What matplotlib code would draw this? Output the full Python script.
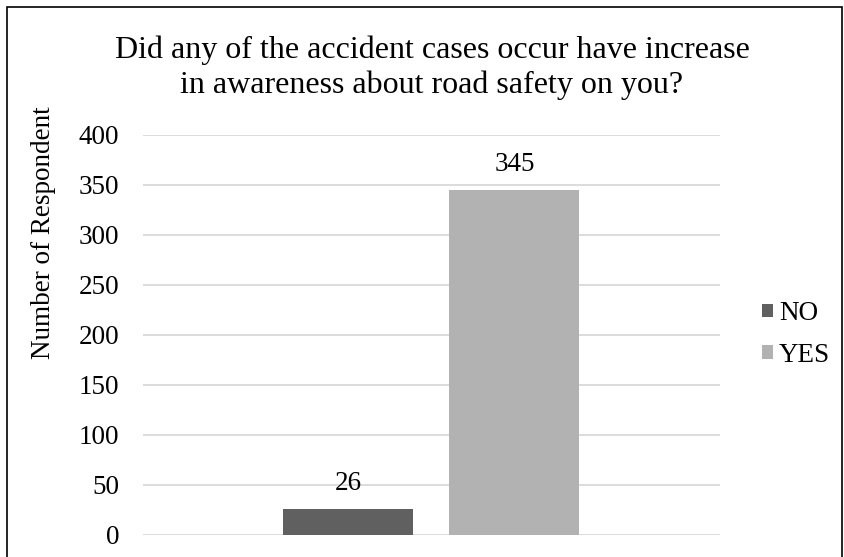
import matplotlib.pyplot as plt
from matplotlib.patches import Rectangle

plt.rcParams["font.family"] = ["Liberation Serif", "DejaVu Serif"]

# data
answers = ["NO", "YES"]
counts = [26, 345]
colors = ["#606060", "#b2b2b2"]
yticks = [0, 50, 100, 150, 200, 250, 300, 350, 400]
title_lines = ["Did any of the accident cases occur have increase",
               "in awareness about road safety on you?"]

fig = plt.figure(figsize=(8.45, 5.57), dpi=100)
ax = fig.add_axes([143 / 845, 22 / 557, 577 / 845, 400 / 557])

# one category group, two bars side by side
bar_w = 130 / 577
offsets = [-83 / 577, 83 / 577]
for name, val, col, off in zip(answers, counts, colors, offsets):
    ax.bar(off, val, width=bar_w, color=col, label=name, zorder=2)
    ax.text(off, val + 19, str(val), ha="center", va="baseline", fontsize=19.5)

ax.set_xlim(-0.5, 0.5)
ax.set_ylim(0, 400)
ax.set_yticks(yticks)
ax.set_xticks([])
ax.tick_params(axis="y", length=0, labelsize=19.5, pad=17)
ax.grid(True, axis="y", color="#d9d9d9", lw=1.3, zorder=0)
for s in ax.spines.values():
    s.set_visible(False)

fig.text(44 / 845, 1 - 233 / 557, "Number of Respondent", rotation=90,
         ha="center", va="center", fontsize=19.5)
fig.text(432 / 845, 1 - 58 / 557, title_lines[0], ha="center",
         va="baseline", fontsize=23)
fig.text(432 / 845, 1 - 93 / 557, title_lines[1], ha="center",
         va="baseline", fontsize=23)

fig.legend(loc="center left", bbox_to_anchor=(762 / 845, 1 - 334.5 / 557),
           frameon=False, fontsize=19.5, handlelength=0.4, handleheight=0.4,
           handletextpad=0.22, labelspacing=0.62, borderaxespad=0,
           borderpad=0)

# outer chart border (bottom edge runs off the image)
fig.patches.append(Rectangle((7 / 845, -0.05), 835 / 845, 1.05 - 7 / 557,
                             transform=fig.transFigure, fill=False,
                             edgecolor="black", lw=1.2))

fig.savefig("out.png", dpi=100)
